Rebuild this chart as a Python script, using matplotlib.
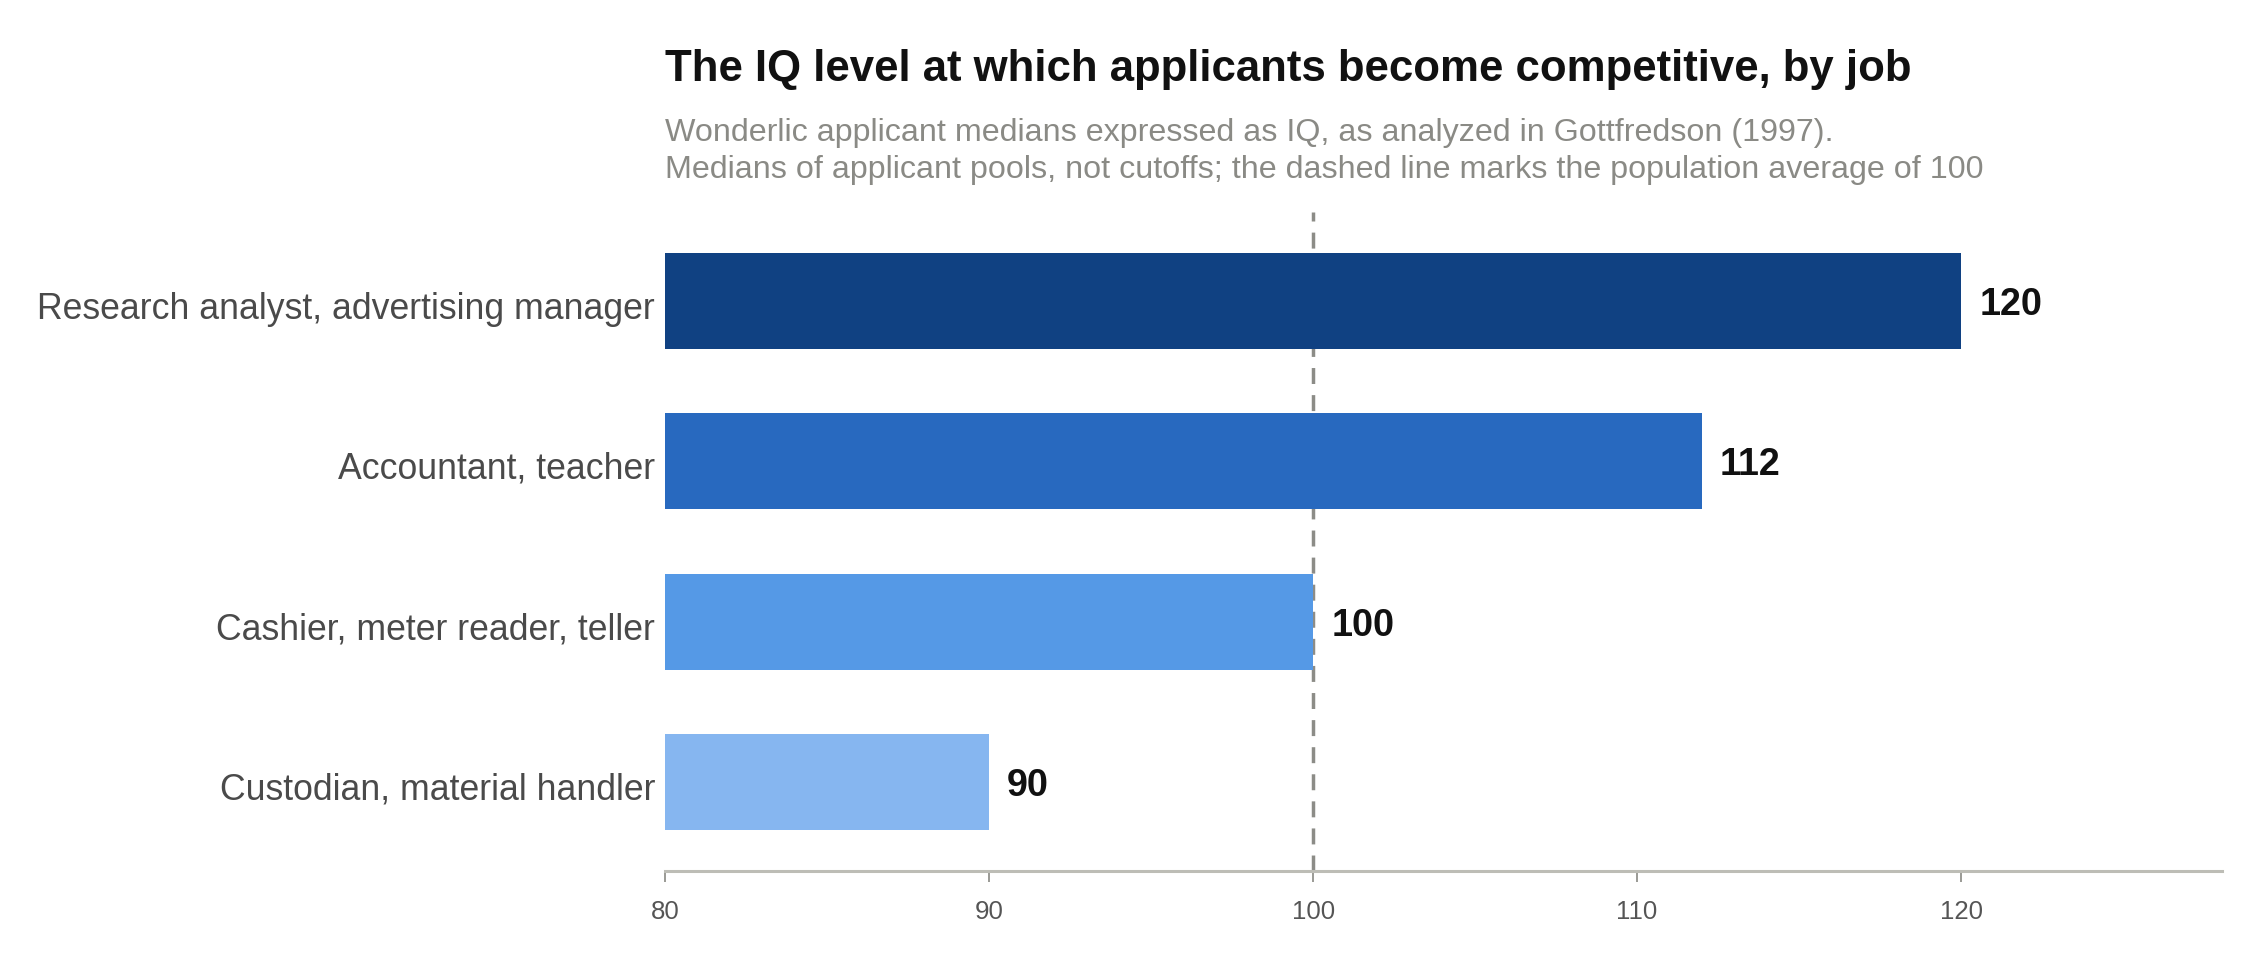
import matplotlib
matplotlib.use("Agg")
import matplotlib.pyplot as plt
from matplotlib.transforms import ScaledTranslation

plt.rcParams['font.family'] = ['Liberation Sans', 'DejaVu Sans']

# data
jobs = [
    "Research analyst, advertising manager",
    "Accountant, teacher",
    "Cashier, meter reader, teller",
    "Custodian, material handler",
]
iq_values = [120, 112, 100, 90]
bar_colors = ["#104182", "#2869BF", "#5599E6", "#86B6F0"]
x_ticks = [80, 90, 100, 110, 120]
population_avg = 100

title = "The IQ level at which applicants become competitive, by job"
subtitle_1 = "Wonderlic applicant medians expressed as IQ, as analyzed in Gottfredson (1997)."
subtitle_2 = "Medians of applicant pools, not cutoffs; the dashed line marks the population average of 100"

fig = plt.figure(figsize=(11.28, 4.8), dpi=200)
ax = fig.add_axes([0.29477, 0.09271, 0.69016, 0.68646])

# -----------------------------
# bars + labels
# -----------------------------
ypos = list(range(len(jobs)))
ax.barh(ypos, [v - 80 for v in iq_values], left=80, height=0.6,
        color=bar_colors, zorder=3)

for y, v in zip(ypos, iq_values):
    ax.annotate(str(v), xy=(v, y), xytext=(6.5, -1.5), textcoords="offset points",
                ha="left", va="center", fontsize=13.6, fontweight="bold",
                color="#111111", zorder=4)

# population average
ax.axvline(population_avg, color="#8C8C87", lw=1.25,
           linestyle=(0, (4.6, 3.2)), zorder=1)

ax.set_xlim(80, 128.05)
ax.set_ylim(3.555, -0.555)

ax.set_yticks(ypos)
ax.set_yticklabels(jobs, fontsize=12.85, color="#4a4a4a")
ax.tick_params(axis="y", length=0, pad=3.6)
shift = ScaledTranslation(0, -1.5 / 72, fig.dpi_scale_trans)
for lbl in ax.get_yticklabels():
    lbl.set_transform(lbl.get_transform() + shift)

ax.set_xticks(x_ticks)
ax.set_xticklabels([str(t) for t in x_ticks], fontsize=9.3, color="#555555")
ax.tick_params(axis="x", length=4, width=0.7, color="#9a9a95", pad=6.5)

for side in ["top", "right", "left"]:
    ax.spines[side].set_visible(False)
ax.spines["bottom"].set_color("#BDBDB6")
ax.spines["bottom"].set_linewidth(1.1)
ax.spines["bottom"].set_zorder(2)

# -----------------------------
# title block
# -----------------------------
x0 = 0.29477
fig.text(x0, 1 - 81 / 960, title, fontsize=15.75, fontweight="bold",
         color="#111111", ha="left", va="baseline")
fig.text(x0, 1 - 141 / 960, subtitle_1, fontsize=11.6,
         color="#8a8a85", ha="left", va="baseline")
fig.text(x0, 1 - 178 / 960, subtitle_2, fontsize=11.6,
         color="#8a8a85", ha="left", va="baseline")

fig.savefig("out.png", dpi=200, facecolor="white")
